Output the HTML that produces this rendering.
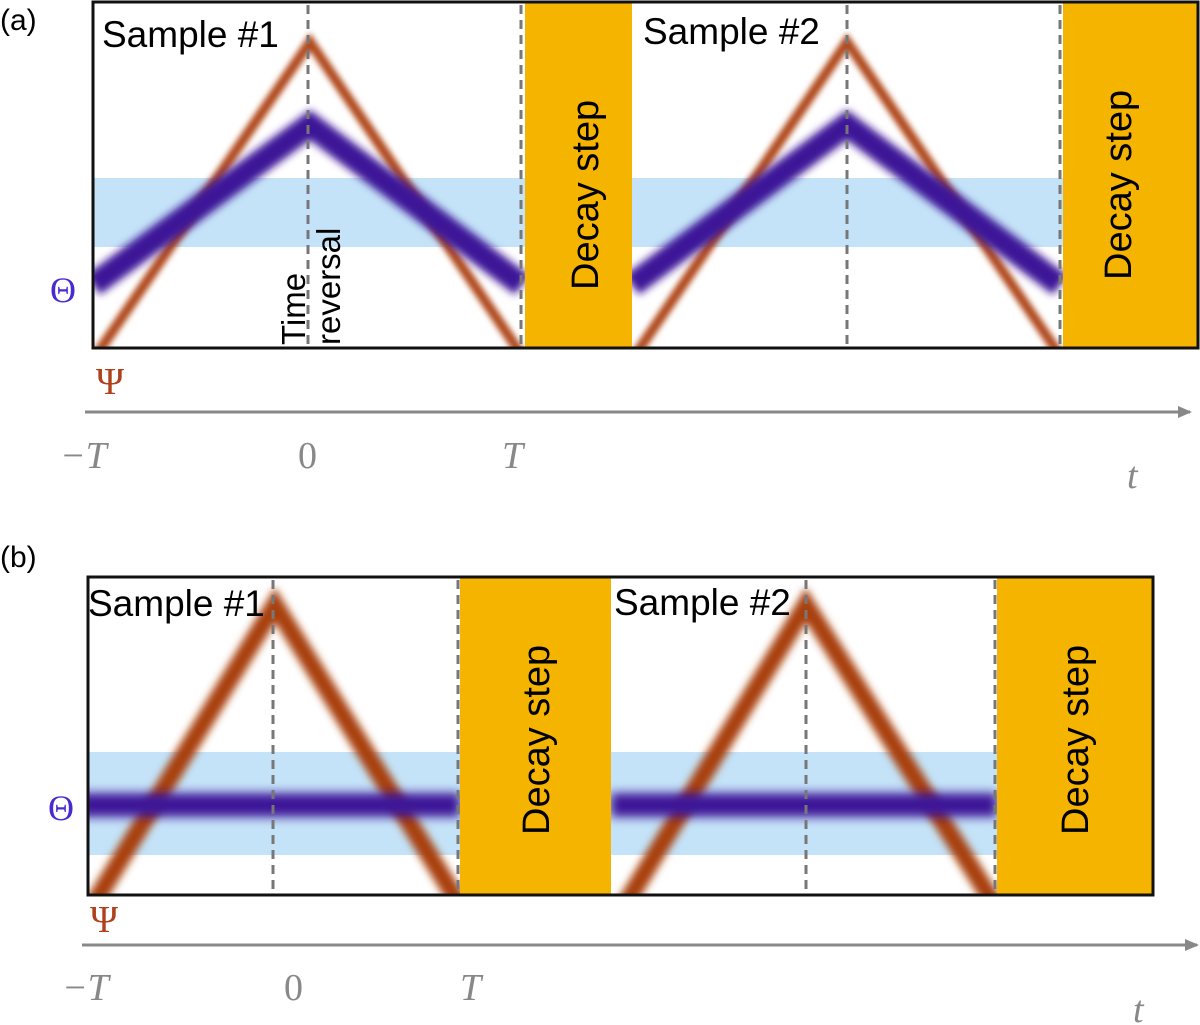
<!DOCTYPE html>
<html><head><style>body{margin:0;background:#fff}svg{display:block}</style></head><body>
<svg width="1200" height="1025" viewBox="0 0 1200 1025" xmlns="http://www.w3.org/2000/svg" font-family="Liberation Sans, sans-serif">
<defs>
<filter id="b1" x="-20%" y="-20%" width="140%" height="140%"><feGaussianBlur stdDeviation="3"/></filter>
<filter id="b2" x="-20%" y="-20%" width="140%" height="140%"><feGaussianBlur stdDeviation="4"/></filter>
<filter id="b3" filterUnits="userSpaceOnUse" x="0" y="700" width="1200" height="200"><feGaussianBlur stdDeviation="5"/></filter>
<marker id="ar" markerWidth="14" markerHeight="12" refX="12" refY="6" orient="auto" markerUnits="userSpaceOnUse"><path d="M0,0 L14,6 L0,12 Z" fill="#888"/></marker>
<clipPath id="ca"><rect x="93" y="2" width="1105" height="346"/></clipPath>
<clipPath id="cb"><rect x="88" y="577" width="1065" height="318"/></clipPath>
</defs>
<!-- Panel a -->
<text x="0" y="30" font-size="30">(a)</text>
<g clip-path="url(#ca)">
<rect x="93" y="178" width="1105" height="69" fill="#c4e3f8"/>
<g fill="none" stroke-linejoin="miter">
<polyline points="93,360 310,42 525,360" stroke="#b04a1a" stroke-width="10" filter="url(#b1)"/>
<polyline points="93,285 310,125 522,285" stroke="#3e1598" stroke-width="24" filter="url(#b2)"/>
<polyline points="632,360 847,42 1063,360" stroke="#b04a1a" stroke-width="10" filter="url(#b1)"/>
<polyline points="632,285 847,125 1060,285" stroke="#3e1598" stroke-width="24" filter="url(#b2)"/>
</g>
<rect x="525" y="2" width="107" height="346" fill="#f5b400"/>
<rect x="1063" y="2" width="135" height="346" fill="#f5b400"/>
<g stroke="#777" stroke-width="3" stroke-dasharray="9,6">
<line x1="308" y1="5" x2="308" y2="348"/><line x1="521" y1="5" x2="521" y2="348"/>
<line x1="847" y1="5" x2="847" y2="348"/><line x1="1060" y1="5" x2="1060" y2="348"/>
</g>
</g>
<rect x="93" y="2" width="1105" height="346" fill="none" stroke="#111" stroke-width="3"/>
<text x="102" y="47" font-size="37">Sample #1</text>
<text x="643" y="44" font-size="37">Sample #2</text>
<text transform="translate(305,345) rotate(-90)" font-size="33">Time</text>
<text transform="translate(340,345) rotate(-90)" font-size="33">reversal</text>
<text transform="translate(598,290) rotate(-90)" font-size="38">Decay step</text>
<text transform="translate(1131,280) rotate(-90)" font-size="38">Decay step</text>
<text x="50" y="302" font-size="36" fill="#4a2ad0" font-family="Liberation Serif, serif">Θ</text>
<text x="96" y="394" font-size="38" fill="#b0401a" font-family="Liberation Serif, serif">Ψ</text>
<line x1="85" y1="412" x2="1190" y2="412" stroke="#888" stroke-width="3" marker-end="url(#ar)"/>
<g font-family="Liberation Serif, serif" font-style="italic" font-size="38" fill="#888">
<text x="60" y="468">−T</text><text x="298" y="468" font-style="normal">0</text><text x="502" y="468">T</text><text x="1127" y="488">t</text>
</g>
<!-- Panel b -->
<text x="0" y="567" font-size="30">(b)</text>
<g clip-path="url(#cb)">
<rect x="88" y="752" width="1065" height="103" fill="#c4e3f8"/>
<g fill="none">
<polyline points="93,905 275,605 460,905" stroke="#a8400f" stroke-width="18" filter="url(#b2)"/>
<polyline points="625,905 806,605 995,905" stroke="#a8400f" stroke-width="18" filter="url(#b2)"/>
</g>
<g filter="url(#b3)" fill="#3e1598">
<rect x="80" y="793" width="380" height="24"/>
<rect x="611" y="793" width="386" height="24"/>
</g>
<rect x="460" y="577" width="151" height="318" fill="#f5b400"/>
<rect x="997" y="577" width="156" height="318" fill="#f5b400"/>
<g stroke="#777" stroke-width="3" stroke-dasharray="9,6">
<line x1="273" y1="580" x2="273" y2="895"/><line x1="458" y1="580" x2="458" y2="895"/>
<line x1="806" y1="580" x2="806" y2="895"/><line x1="995" y1="580" x2="995" y2="895"/>
</g>
</g>
<rect x="88" y="577" width="1065" height="318" fill="none" stroke="#111" stroke-width="3"/>
<text x="88" y="616" font-size="37">Sample #1</text>
<text x="614" y="615" font-size="37">Sample #2</text>
<text transform="translate(549,835) rotate(-90)" font-size="38">Decay step</text>
<text transform="translate(1088,835) rotate(-90)" font-size="38">Decay step</text>
<text x="48" y="820" font-size="36" fill="#4a2ad0" font-family="Liberation Serif, serif">Θ</text>
<text x="90" y="932" font-size="38" fill="#b0401a" font-family="Liberation Serif, serif">Ψ</text>
<line x1="82" y1="945" x2="1197" y2="945" stroke="#888" stroke-width="3" marker-end="url(#ar)"/>
<g font-family="Liberation Serif, serif" font-style="italic" font-size="38" fill="#888">
<text x="62" y="1000">−T</text><text x="284" y="1000" font-style="normal">0</text><text x="460" y="1000">T</text><text x="1133" y="1022">t</text>
</g>
</svg>
</body></html>
